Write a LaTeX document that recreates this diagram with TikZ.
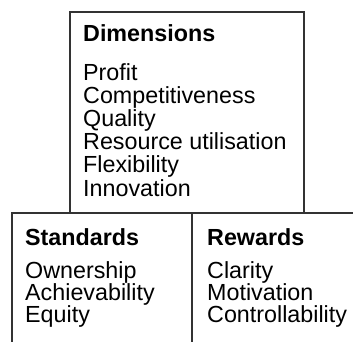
\documentclass[tikz,border=0pt]{standalone}
\usepackage{fontspec}
\newfontfamily\hv{Liberation Sans}
\begin{document}
\begin{tikzpicture}[x=1bp,y=-1bp,
  frame/.style={draw=black!80,line width=1.1bp},
  hd/.style={anchor=base west,inner sep=0pt,font=\hv\fontsize{23.3bp}{23bp}\selectfont\bfseries},
  it/.style={anchor=base west,inner sep=0pt,font=\hv\fontsize{23.3bp}{23bp}\selectfont}]
\useasboundingbox (0,0) rectangle (353,342);
% frames
\coordinate (a1) at (70,213);
\coordinate (a2) at (70,12);
\coordinate (a3) at (304,12);
\coordinate (a4) at (304,213);
\coordinate (b1) at (12,342);
\coordinate (b2) at (12,213);
\coordinate (b3) at (353,213);
\coordinate (c1) at (192,213);
\coordinate (c2) at (192,342);
\draw[frame] (a1) -- (a2) -- (a3) -- (a4);
\draw[frame] (b1) -- (b2) -- (b3);
\draw[frame] (c1) -- (c2);
% Dimensions
\node[hd] (dim) at (83,41.5) {Dimensions};
\foreach \t [count=\i] in {Profit,Competitiveness,Quality,Resource utilisation,Flexibility,Innovation}
  \node[it] (d\i) at (83,{80+23.2*(\i-1)}) {\t};
% Standards
\node[hd] (std) at (25,245) {Standards};
\foreach \t [count=\i] in {Ownership,Achievability,Equity}
  \node[it] (s\i) at (25,{278+22*(\i-1)}) {\t};
% Rewards
\node[hd] (rew) at (207,245) {Rewards};
\foreach \t [count=\i] in {Clarity,Motivation,Controllability}
  \node[it] (r\i) at (207,{278+22*(\i-1)}) {\t};
\end{tikzpicture}
\end{document}
